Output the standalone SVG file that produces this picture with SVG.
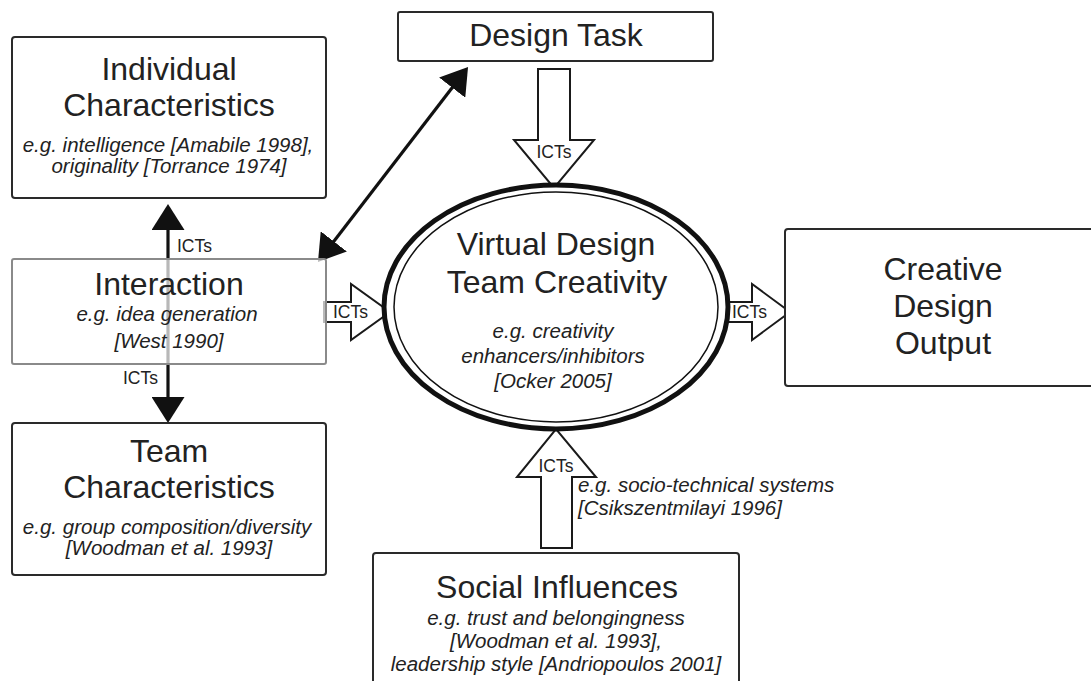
<svg xmlns="http://www.w3.org/2000/svg" width="1091" height="681" viewBox="0 0 1091 681">
<style>
  .box { fill: #fff; stroke: #2a2a2a; stroke-width: 2; }
  .box2 { fill: #fff; fill-opacity: 0.7; stroke: #8a8a8a; stroke-width: 2; }
  .title { font-family: "Liberation Sans", Arial, sans-serif; font-size: 32px; fill: #222; text-anchor: middle; }
  .note { font-family: "Liberation Sans", Arial, sans-serif; font-size: 20.5px; font-style: italic; fill: #222; text-anchor: middle; }
  .noteL { font-family: "Liberation Sans", Arial, sans-serif; font-size: 20.5px; font-style: italic; fill: #222; }
  .ict { font-family: "Liberation Sans", Arial, sans-serif; font-size: 17.5px; fill: #222; }
  .ictc { font-family: "Liberation Sans", Arial, sans-serif; font-size: 17.5px; fill: #222; text-anchor: middle; }
  .line { stroke: #111; stroke-width: 3.2; fill: none; }
  .block { fill: #fff; stroke: #1a1a1a; stroke-width: 2; stroke-linejoin: miter; }
</style>
<defs>
  <marker id="head" markerUnits="userSpaceOnUse" markerWidth="26" markerHeight="33" refX="22" refY="16.5" orient="auto-start-reverse">
    <path d="M0,0 L26,16.5 L0,33 Z" fill="#111"/>
  </marker>
</defs>
<rect width="1091" height="681" fill="#fff"/>

<g id="connectors">
  <line class="line" x1="168" y1="208" x2="168" y2="419" marker-start="url(#head)" marker-end="url(#head)"/>
  <line class="line" x1="465.6" y1="70.2" x2="320.4" y2="258.8" marker-start="url(#head)" marker-end="url(#head)"/>
  <text class="ict" x="177" y="252">ICTs</text>
  <text class="ict" x="123" y="384">ICTs</text>
  <g id="arrow-task">
    <path class="block" d="M538,69 H570 V140 H594 L554,188 L514,140 H538 Z"/>
    <text class="ictc" x="554" y="158">ICTs</text>
  </g>
  <g id="arrow-interaction">
    <path class="block" d="M324,302 H351 V284 L390,312 L351,340 V322 H324 Z"/>
    <text class="ict" x="333" y="318">ICTs</text>
  </g>
  <g id="arrow-output">
    <path class="block" d="M723,302 H752 V284 L790,312 L752,340 V322 H723 Z"/>
    <text class="ict" x="732" y="318">ICTs</text>
  </g>
  <g id="arrow-social">
    <path class="block" d="M541,548 V477 H517 L556,429 L596,477 H572 V548 Z"/>
    <text class="ictc" x="556" y="472">ICTs</text>
  </g>
</g>

<g id="individual">
  <rect class="box" x="12" y="37" width="314" height="161" rx="3"/>
  <text class="title" x="169" y="80">Individual</text>
  <text class="title" x="169" y="116">Characteristics</text>
  <text class="note" x="168" y="152">e.g. intelligence [Amabile 1998],</text>
  <text class="note" x="169" y="173">originality [Torrance 1974]</text>
</g>

<g id="interaction">
  <rect class="box2" x="12" y="259" width="314" height="105" rx="2"/>
  <text class="title" x="169" y="295">Interaction</text>
  <text class="note" x="167" y="321">e.g. idea generation</text>
  <text class="note" x="169" y="348">[West 1990]</text>
</g>

<g id="team">
  <rect class="box" x="12" y="423" width="314" height="152" rx="3"/>
  <text class="title" x="169" y="462">Team</text>
  <text class="title" x="169" y="498">Characteristics</text>
  <text class="note" x="167" y="534">e.g. group composition/diversity</text>
  <text class="note" x="169" y="555">[Woodman et al. 1993]</text>
</g>

<g id="design-task">
  <rect class="box" x="398" y="12" width="315" height="49" rx="2"/>
  <text class="title" x="556" y="46">Design Task</text>
</g>

<g id="creativity">
  <ellipse cx="556" cy="307" rx="172" ry="122" fill="#fff" stroke="#111" stroke-width="5"/>
  <ellipse cx="556" cy="307" rx="162" ry="115" fill="none" stroke="#111" stroke-width="1.5"/>
  <text class="title" x="556" y="255">Virtual Design</text>
  <text class="title" x="557" y="293">Team Creativity</text>
  <text class="note" x="553" y="338">e.g. creativity</text>
  <text class="note" x="553" y="363">enhancers/inhibitors</text>
  <text class="note" x="553" y="388">[Ocker 2005]</text>
</g>

<g id="output">
  <rect class="box" x="785" y="229" width="320" height="157" rx="3"/>
  <text class="title" x="943" y="280">Creative</text>
  <text class="title" x="943" y="317">Design</text>
  <text class="title" x="943" y="354">Output</text>
</g>

<g id="social">
  <rect class="box" x="373" y="553" width="366" height="150" rx="3"/>
  <text class="title" x="557" y="598">Social Influences</text>
  <text class="note" x="556" y="625">e.g. trust and belongingness</text>
  <text class="note" x="556" y="648">[Woodman et al. 1993],</text>
  <text class="note" x="556" y="671">leadership style [Andriopoulos 2001]</text>
</g>

<g id="social-note">
  <text class="noteL" x="578" y="492">e.g. socio-technical systems</text>
  <text class="noteL" x="578" y="515">[Csikszentmilayi 1996]</text>
</g>
</svg>
